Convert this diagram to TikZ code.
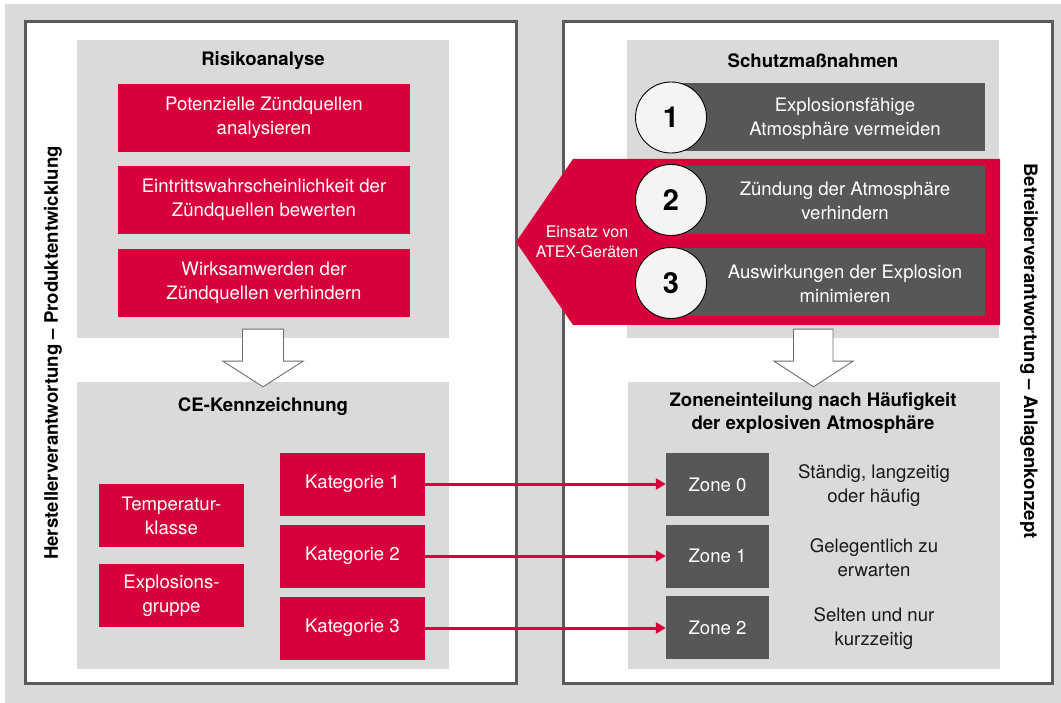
\documentclass[tikz,border=0pt]{standalone}
\usepackage{fontspec}
\setmainfont{TeX Gyre Heros}
\usepackage{tikz}
\usetikzlibrary{positioning}
\usetikzlibrary{arrows.meta}
\usetikzlibrary{calc}
\usepackage{xcolor}
\definecolor{atexred}{HTML}{D7003A}
\definecolor{darkbg}{HTML}{575756}
\definecolor{lightbg}{HTML}{DADADA}
\definecolor{frameline}{HTML}{5A5A5A}
\definecolor{circlebg}{HTML}{F4F4F4}
\definecolor{hollowline}{HTML}{6E6E6E}
\begin{document}
\begin{tikzpicture}[x=1pt, y=-1pt,
    txt/.style={font=\fontsize{18.6}{24}\selectfont, align=center, inner sep=0pt},
    title/.style={font=\fontsize{18.6}{23.5}\selectfont\bfseries, align=center, inner sep=0pt},
    graybox/.style={fill=lightbg, inner sep=0pt, minimum width=372pt},
    redbox/.style={txt, fill=atexred, text=white, minimum width=292pt, minimum height=68pt},
    smallred/.style={txt, fill=atexred, text=white, minimum width=145pt, minimum height=63pt},
    darkbox/.style={fill=darkbg, inner sep=0pt, minimum width=309pt, minimum height=68pt},
    zonebox/.style={txt, fill=darkbg, text=white, minimum width=103pt, minimum height=63pt},
    numcircle/.style={circle, draw=black, line width=0.9pt, fill=circlebg, minimum size=71pt, inner sep=0pt, font=\fontsize{29}{29}\selectfont\bfseries},
    hollow/.style={draw=hollowline, fill=white, line width=0.9pt, line join=miter},
    redarrow/.style={draw=atexred, line width=3pt, -{Triangle[length=10pt, width=11pt]}},
    sidelabel/.style={font=\fontsize{18.6}{18}\selectfont\bfseries, inner sep=0pt}]
    \useasboundingbox (0,0) rectangle (1061,703);
    \fill[lightbg] (5,4) rectangle (1061,703);
    % panels
    \draw[frameline, fill=white, line width=3pt] (25,22) rectangle (516,683);
    \draw[frameline, fill=white, line width=3pt] (563,22) rectangle (1052,683);
    \node[sidelabel, rotate=90] (hersteller) at (53,353) {Herstellerverantwortung – Produktentwicklung};
    \node[sidelabel, rotate=-90] (betreiber) at (1029,351) {Betreiberverantwortung – Anlagenkonzept};
    % left side
    \node[graybox, minimum height=298pt] (risk) at (263,189) {};
    \node[title] (risktitle) at (263,61) {Risikoanalyse};
    \node[redbox] (r1) at (264,118) {Potenzielle Zündquellen\\analysieren};
    \node[redbox] (r2) at (264,200) {Eintrittswahrscheinlichkeit der\\Zündquellen bewerten};
    \node[redbox] (r3) at (264,283) {Wirksamwerden der\\Zündquellen verhindern};
    \node[graybox, minimum height=287pt] (ce) at (263,525.5) {};
    \node[title] (cetitle) at (263,407) {CE-Kennzeichnung};
    \node[smallred] (temp) at (171.5,515.5) {Temperatur-\\klasse};
    \node[smallred] (exgr) at (171.5,595.5) {Explosions-\\gruppe};
    \node[smallred] (k1) at (352.5,484) {Kategorie 1};
    \node[smallred] (k2) at (352.5,556) {Kategorie 2};
    \node[smallred] (k3) at (352.5,628) {Kategorie 3};
    % right side
    \node[graybox, minimum height=298pt] (schutz) at (813,189) {};
    \node[title] (schutztitle) at (813,61) {Schutzmaßnahmen};
    \fill[atexred] (573,159) -- (1000,159) -- (1000,325) -- (573,325) -- (516,242) -- cycle;
    \node[txt, font=\fontsize{16}{20}\selectfont, text=white] (atex) at (587,242) {Einsatz von\\ATEX-Geräten};
    \node[darkbox] (m1) at (830.5,117.5) {};
    \node[darkbox] (m2) at (830.5,200) {};
    \node[darkbox] (m3) at (830.5,282.5) {};
    \node[txt, text=white] (m1text) at (845,119) {Explosionsfähige\\Atmosphäre vermeiden};
    \node[txt, text=white] (m2text) at (845,201) {Zündung der Atmosphäre\\verhindern};
    \node[txt, text=white] (m3text) at (845,284) {Auswirkungen der Explosion\\minimieren};
    \node[numcircle] (c1) at (671,117.5) {1};
    \node[numcircle] (c2) at (671,200) {2};
    \node[numcircle] (c3) at (671,283) {3};
    \node[graybox, minimum height=287pt] (zonen) at (813.5,525.5) {};
    \node[title] (zonentitle) at (813,413) {Zoneneinteilung nach Häufigkeit\\der explosiven Atmosphäre};
    \node[zonebox] (z0) at (717.5,484.5) {Zone 0};
    \node[zonebox] (z1) at (717.5,556) {Zone 1};
    \node[zonebox] (z2) at (717.5,627.5) {Zone 2};
    \node[txt, text=black!90] (d0) at (874,486) {Ständig, langzeitig\\oder häufig};
    \node[txt, text=black!90] (d1) at (874,558) {Gelegentlich zu\\erwarten};
    \node[txt, text=black!90] (d2) at (874,629) {Selten und nur\\kurzzeitig};
    % connectors
    \draw[redarrow] (k1.east) -- (z0.west |- k1.east);
    \draw[redarrow] (k2.east) -- (z1.west |- k2.east);
    \draw[redarrow] (k3.east) -- (z2.west |- k3.east);
    \draw[hollow] ($(risk.south)+(-20.5,-9)$) -- ++(0,32) -- ++(-19.5,0) -- ($(ce.north)+(0,5)$)
        -- ($(risk.south)+(40,23)$) -- ++(-19.5,0) -- ++(0,-32) -- cycle;
    \draw[hollow] ($(schutz.south)+(-19.5,-9)$) -- ++(0,32) -- ++(-19.5,0) -- ($(zonen.north)+(0,5)$)
        -- ($(schutz.south)+(40,23)$) -- ++(-20,0) -- ++(0,-32) -- cycle;
\end{tikzpicture}
\end{document}
